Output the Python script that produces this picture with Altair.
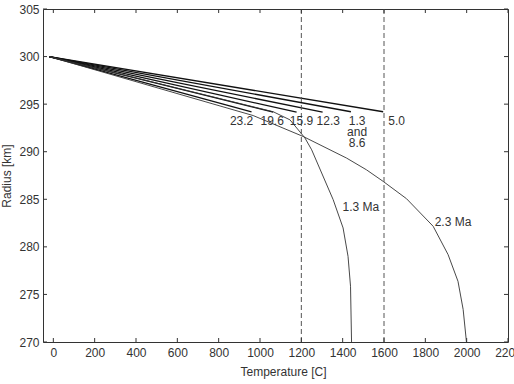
import altair as alt
import pandas as pd

# ---- data ----
start_T = -20
start_r = 300.0
thick_labels = ["23.2", "19.6", "15.9", "12.3", "1.3 and 8.6", "5.0"]
thick_end_T = [959, 1064, 1177, 1303, 1440, 1596]
thick_end_r = [294.2, 294.15, 294.15, 294.15, 294.2, 294.2]

curve13_T = [-20, 1064, 1145, 1217, 1250, 1354, 1402, 1426, 1438, 1443]
curve13_r = [300.0, 294.2, 293.35, 291.46, 290.2, 284.96, 281.99, 279.0, 275.86, 270.0]

curve23_T = [-20, 967, 1209, 1419, 1515, 1596, 1709, 1838, 1910, 1958, 1983, 1999]
curve23_r = [300.0, 293.8, 291.6, 289.33, 288.1, 286.88, 285.06, 282.16, 279.19, 276.38, 273.42, 270.0]

dashed_T = [1200, 1600]

label_text = ["23.2", "19.6", "15.9", "12.3", "1.3", "and", "8.6", "5.0", "1.3 Ma", "2.3 Ma"]
label_T = [911, 1059, 1201, 1330, 1470, 1470, 1470, 1661, 1488, 1934]
label_r = [293.25, 293.25, 293.25, 293.25, 293.25, 292.06, 290.91, 293.25, 284.15, 282.62]

x_ticks = [0, 200, 400, 600, 800, 1000, 1200, 1400, 1600, 1800, 2000, 2200]
y_ticks = [270, 275, 280, 285, 290, 295, 300, 305]

W, H = 465, 333
FONT = "Liberation Sans"
TXT = "#333333"

# ---- tables ----
rows = []
for lab, t, r in zip(thick_labels, thick_end_T, thick_end_r):
    rows.append({"s": lab, "o": 0, "T": start_T, "r": start_r})
    rows.append({"s": lab, "o": 1, "T": t, "r": r})
thick_df = pd.DataFrame(rows)

crows = []
for i, (t, r) in enumerate(zip(curve13_T, curve13_r)):
    crows.append({"s": "1.3 Ma", "o": i, "T": t, "r": r})
for i, (t, r) in enumerate(zip(curve23_T, curve23_r)):
    crows.append({"s": "2.3 Ma", "o": i, "T": t, "r": r})
curve_df = pd.DataFrame(crows)

dash_df = pd.DataFrame({"T": dashed_T})
lab_df = pd.DataFrame({"t": label_text, "T": label_T, "r": label_r})
xt_df = pd.DataFrame({"T": x_ticks})
yt_df = pd.DataFrame({"r": y_ticks})

xs = alt.Scale(domain=[-50, 2200], nice=False, zero=False)
ys = alt.Scale(domain=[270, 305], nice=False, zero=False)

xaxis = alt.Axis(values=x_ticks, format="d", ticks=False, domain=False, grid=False,
                 labelFontSize=12, labelFont=FONT, labelColor=TXT, labelPadding=5,
                 labelFlush=False, labelOverlap=False,
                 title="Temperature [C]", titleFontSize=12, titleFont=FONT,
                 titleFontWeight="normal", titleColor=TXT, titlePadding=8, titleX=240)
yaxis = alt.Axis(values=y_ticks, format="d", ticks=False, domain=False, grid=False,
                 labelFontSize=12, labelFont=FONT, labelColor=TXT, labelPadding=4,
                 labelFlush=False, labelOverlap=False,
                 title="Radius [km]", titleFontSize=12, titleFont=FONT,
                 titleFontWeight="normal", titleColor=TXT, titlePadding=5)

base_x = alt.X("T:Q", scale=xs, axis=xaxis)
base_y = alt.Y("r:Q", scale=ys, axis=yaxis)

thick = alt.Chart(thick_df).mark_line(color="#111111", strokeWidth=1.3).encode(
    x=base_x, y=base_y, detail="s:N", order="o:Q")

curves = alt.Chart(curve_df).mark_line(color="#333333", strokeWidth=0.9).encode(
    x="T:Q", y="r:Q", detail="s:N", order="o:Q")

dashes = alt.Chart(dash_df).mark_rule(color="#555555", strokeWidth=1, strokeDash=[5, 3]).encode(
    x="T:Q")

labels = alt.Chart(lab_df).mark_text(font=FONT, fontSize=12, color=TXT,
                                     align="center", baseline="middle").encode(
    x="T:Q", y="r:Q", text="t:N")

tick_col = "#333333"
bt = alt.Chart(xt_df).mark_rule(color=tick_col, strokeWidth=1).encode(
    x="T:Q", y=alt.value(H), y2=alt.value(H - 4))
tt = alt.Chart(xt_df).mark_rule(color=tick_col, strokeWidth=1).encode(
    x="T:Q", y=alt.value(0), y2=alt.value(4))
lt = alt.Chart(yt_df).mark_rule(color=tick_col, strokeWidth=1).encode(
    y="r:Q", x=alt.value(0), x2=alt.value(4))
rt = alt.Chart(yt_df).mark_rule(color=tick_col, strokeWidth=1).encode(
    y="r:Q", x=alt.value(W), x2=alt.value(W - 4))

chart = alt.layer(thick, curves, dashes, labels, bt, tt, lt, rt).properties(
    width=W, height=H,
    autosize=alt.AutoSizeParams(type="none"),
    padding={"left": 43, "top": 9, "right": 514 - 43 - W, "bottom": 384 - 9 - H},
    background="white",
).configure_view(stroke="#333333", strokeWidth=1)

chart.save("out.html", embed_options={"renderer": "svg", "actions": False})
